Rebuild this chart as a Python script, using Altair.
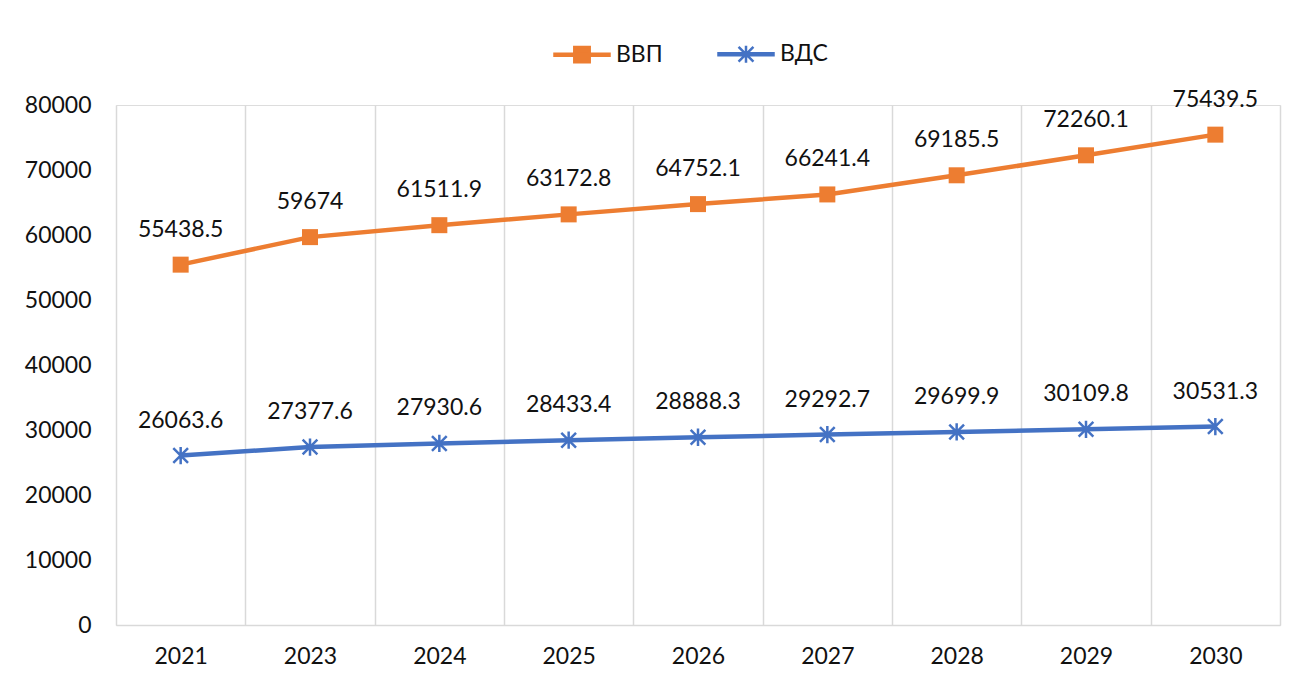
import altair as alt
import pandas as pd

years = ["2021", "2023", "2024", "2025", "2026", "2027", "2028", "2029", "2030"]
vvp = [55438.5, 59674, 61511.9, 63172.8, 64752.1, 66241.4, 69185.5, 72260.1, 75439.5]
vds = [26063.6, 27377.6, 27930.6, 28433.4, 28888.3, 29292.7, 29699.9, 30109.8, 30531.3]
series_names = ["ВВП", "ВДС"]
colors = ["#ED7D31", "#4472C4"]

rows = []
for name, vals in zip(series_names, [vvp, vds]):
    for y, v in zip(years, vals):
        rows.append({"year": y, "series": name, "value": v, "label": f"{v:g}"})
df = pd.DataFrame(rows)

FONT = "Lato"
FS = 23
TXT = "#111111"
GRID = "#D9D9D9"

x_enc = alt.X(
    "year:O",
    sort=years,
    scale=alt.Scale(type="band", paddingInner=0, paddingOuter=0),
    axis=alt.Axis(
        title=None, labelAngle=0, grid=True, tickBand="extent", ticks=False,
        gridColor=GRID, gridWidth=1.5, domainColor=GRID, domainWidth=1.5,
        labelFontSize=FS, labelColor=TXT, labelPadding=20, labelFont=FONT,
    ),
)
y_enc = alt.Y(
    "value:Q",
    scale=alt.Scale(domain=[0, 80000], nice=False),
    axis=alt.Axis(
        title=None, values=list(range(0, 80001, 10000)), format="d",
        grid=False, ticks=False, domain=False,
        labelFontSize=FS, labelColor=TXT, labelPadding=25, labelFont=FONT,
    ),
)

base = alt.Chart(df).encode(x=x_enc, y=y_enc)

asterisk = "M0,-1L0,1M-0.85,-0.85L0.85,0.85M-0.85,0.85L0.85,-0.85"

layers = []
for name, col in zip(series_names, colors):
    b = base.transform_filter(alt.datum.series == name)
    layers.append(b.mark_line(color=col, strokeWidth=4.5))
for name, col in zip(series_names, colors):
    b = base.transform_filter(alt.datum.series == name)
    if name == "ВВП":
        layers.append(b.mark_point(shape="square", filled=True, size=256, color=col, opacity=1))
    else:
        layers.append(b.mark_point(shape=asterisk, filled=False, size=300, color=col,
                                   strokeWidth=2.5, opacity=1))
layers.append(
    base.mark_text(dy=-35, fontSize=FS, color=TXT, font=FONT).encode(text="label:N")
)

# legend symbols: line segment + marker
leg_sq = "M-1,-0.036H1V0.036H-1ZM-0.28,-0.28H0.28V0.28H-0.28Z"
leg_st = ("M-1,-0.036H1V0.036H-1Z"
          "M0,-0.31L0,0.31M-0.27,-0.27L0.27,0.27M-0.27,0.27L0.27,-0.27")
leg = alt.Legend(
    title=None, orient="none", direction="horizontal", legendX=437, legendY=-80,
    symbolSize=3025, symbolStrokeWidth=2.5, labelFontSize=FS, labelFont=FONT,
    labelColor=TXT, labelOffset=5, columnPadding=50, padding=0, symbolOpacity=1,
)
legend_layer = base.transform_filter("false").mark_point(filled=True).encode(
    fill=alt.Fill("series:N", scale=alt.Scale(domain=series_names, range=colors), legend=leg),
    stroke=alt.Stroke("series:N", scale=alt.Scale(domain=series_names, range=colors), legend=leg),
    shape=alt.Shape("series:N", scale=alt.Scale(domain=series_names, range=[leg_sq, leg_st]), legend=leg),
)
layers.append(legend_layer)

chart = alt.layer(*layers).properties(
    width=1164, height=520,
    autosize=alt.AutoSizeParams(type="none"),
    padding={"left": 108, "top": 97, "right": 11, "bottom": 51},
).configure_view(stroke=None).configure(font=FONT)

chart.save("out.html", embed_options={"renderer": "svg", "actions": False})
